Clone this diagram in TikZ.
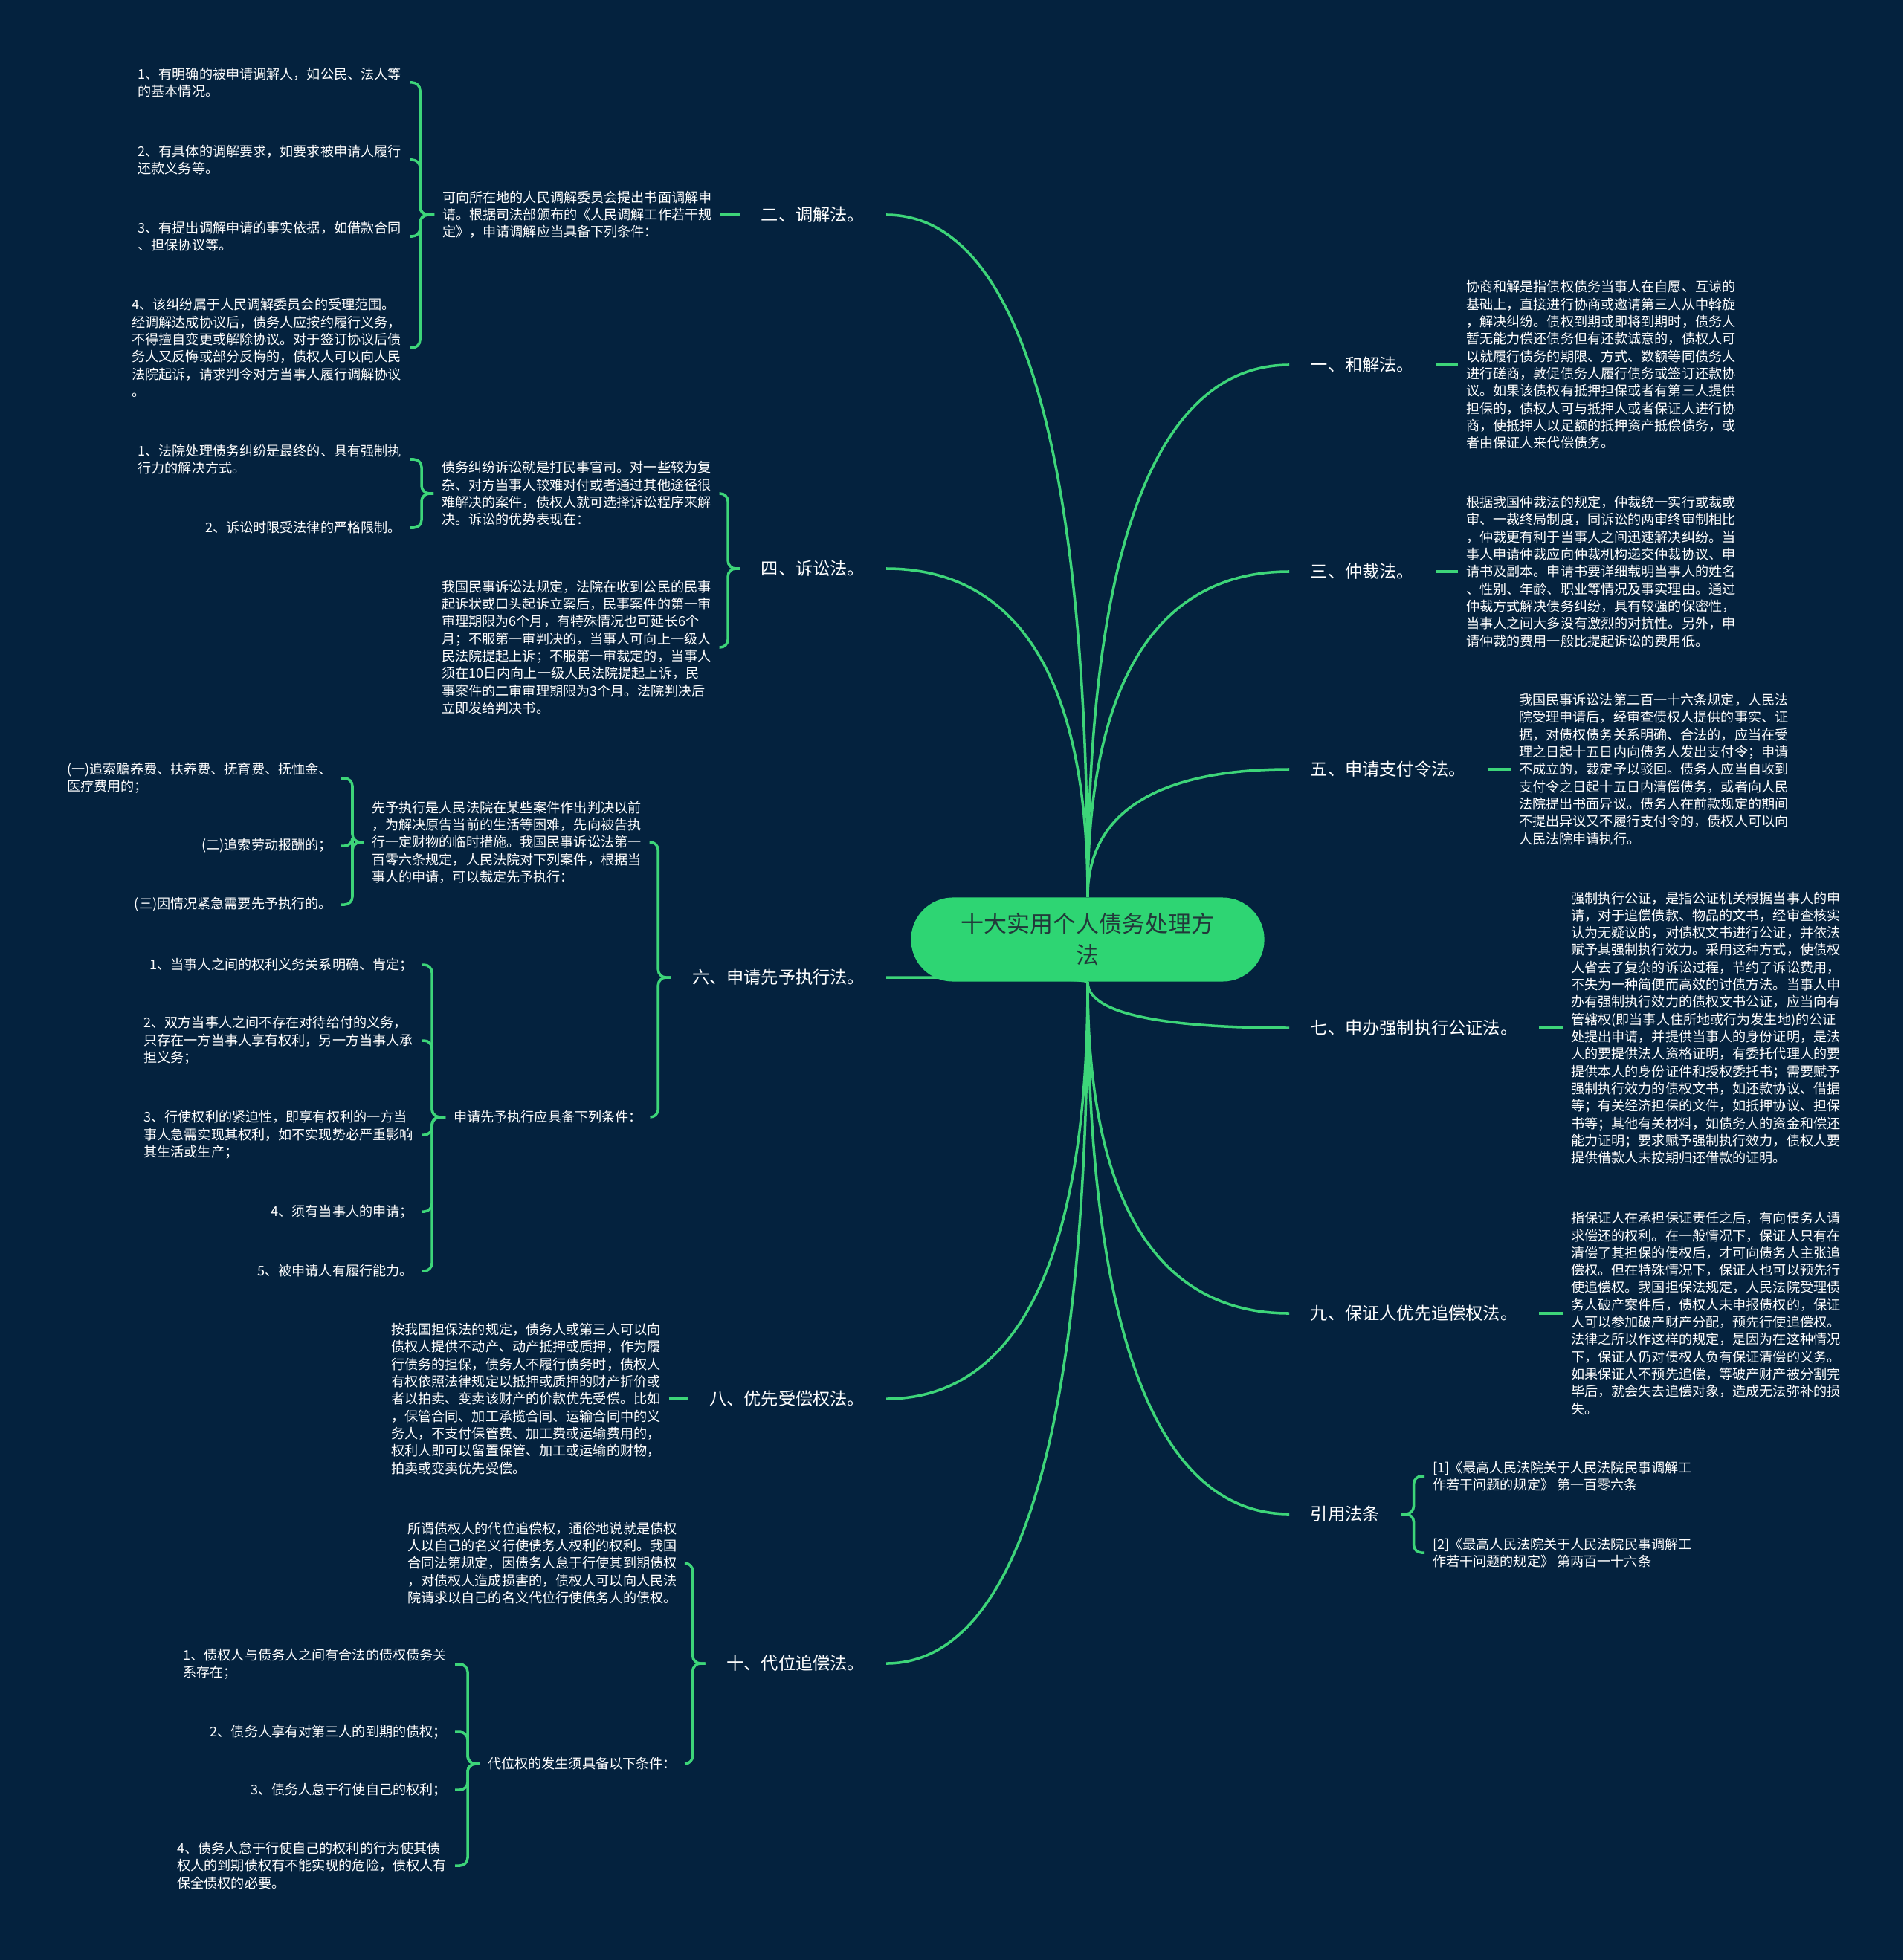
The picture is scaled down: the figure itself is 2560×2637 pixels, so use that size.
\documentclass[tikz,border=0pt]{standalone}
\usepackage{fontspec}
\usetikzlibrary{calc,backgrounds}
\newfontfamily\cjk{Noto Sans CJK SC}

\definecolor{bgcol}{HTML}{04223E}
\definecolor{linecol}{HTML}{3DD579}
\definecolor{rootcol}{HTML}{2ED573}
\definecolor{rootfont}{HTML}{22393A}
\tikzstyle{bline}=[linecol,line width=1pt]
\tikzstyle{root}=[fill=rootcol,rounded corners=16pt,minimum width=4.75cm,minimum height=1.13cm,
  align=center,text=rootfont,font=\cjk\fontsize{8.8}{12}\selectfont]
\tikzstyle{lbl}=[text=white,inner xsep=8pt,inner ysep=2pt,font=\cjk\fontsize{6.6}{8}\selectfont]
\tikzstyle{txt}=[text=white,align=left,inner xsep=3pt,inner ysep=1pt,font=\cjk\fontsize{5.15}{6.63}\selectfont]
\def\branch#1#2{\draw[bline] (#1) .. controls ($(#1)!0.8!(#1|-#2)$) and ($(#2)!0.5!(#1|-#2)$) .. (#2)}
\def\fork#1#2#3{\draw[bline,rounded corners=3pt] (#1) -- ++(#2,0) |- (#3)}

\begin{document}
\begin{tikzpicture}[x=0.01cm,y=-0.01cm]
  \begin{scope}[on background layer]
    \fill[bgcol] (0,0) rectangle (2560,2637);
  \end{scope}
  \useasboundingbox (0,0) rectangle (2560,2637);
  
  % ROOT
  \node[root] (root) at (1463,1264) {十大实用个人债务处理方\\法};
  
  % LEFT: TWO
  \node[lbl,anchor=east] (two) at (1192,289) {二、调解法。};
  \node[txt,anchor=west] (p2) at (584,289) {可向所在地的人民调解委员会提出书面调解申\\请。根据司法部颁布的《人民调解工作若干规\\定》，申请调解应当具备下列条件：};
  \node[txt,anchor=east] (l21) at (551,111) {1、有明确的被申请调解人，如公民、法人等\\的基本情况。};
  \node[txt,anchor=east] (l22) at (551,215) {2、有具体的调解要求，如要求被申请人履行\\还款义务等。};
  \node[txt,anchor=east] (l23) at (551,318) {3、有提出调解申请的事实依据，如借款合同\\、担保协议等。};
  \node[txt,anchor=east] (l24) at (551,468) {4、该纠纷属于人民调解委员会的受理范围。\\经调解达成协议后，债务人应按约履行义务，\\不得擅自变更或解除协议。对于签订协议后债\\务人又反悔或部分反悔的，债权人可以向人民\\法院起诉，请求判令对方当事人履行调解协议\\。};
  \draw[bline] (p2.east) -- (two.west);
  \foreach \k in {l21,l22,l23,l24} \fork{p2.west}{-19}{\k.east};
  
  % LEFT: FOUR
  \node[lbl,anchor=east] (four) at (1192,765) {四、诉讼法。};
  \node[txt,anchor=west] (p4a) at (583,664) {债务纠纷诉讼就是打民事官司。对一些较为复\\杂、对方当事人较难对付或者通过其他途径很\\难解决的案件，债权人就可选择诉讼程序来解\\决。诉讼的优势表现在：};
  \node[txt,anchor=west] (p4b) at (583,871) {我国民事诉讼法规定，法院在收到公民的民事\\起诉状或口头起诉立案后，民事案件的第一审\\审理期限为6个月，有特殊情况也可延长6个\\月；不服第一审判决的，当事人可向上一级人\\民法院提起上诉；不服第一审裁定的，当事人\\须在10日内向上一级人民法院提起上诉，民\\事案件的二审审理期限为3个月。法院判决后\\立即发给判决书。};
  \node[txt,anchor=east] (l41) at (551,618) {1、法院处理债务纠纷是最终的、具有强制执\\行力的解决方式。};
  \node[txt,anchor=east] (l42) at (551,710) {2、诉讼时限受法律的严格限制。};
  \foreach \k in {p4a,p4b} \fork{four.west}{-16}{\k.east};
  \foreach \k in {l41,l42} \fork{p4a.west}{-16}{\k.east};
  
  % LEFT: SIX
  \node[lbl,anchor=east] (six) at (1192,1315) {六、申请先予执行法。};
  \node[txt,anchor=west] (p6a) at (489,1133) {先予执行是人民法院在某些案件作出判决以前\\，为解决原告当前的生活等困难，先向被告执\\行一定财物的临时措施。我国民事诉讼法第一\\百零六条规定，人民法院对下列案件，根据当\\事人的申请，可以裁定先予执行：};
  \node[txt,anchor=west] (p6b) at (599,1503) {申请先予执行应具备下列条件：};
  \node[txt,anchor=east] (l61) at (458,1047) {(一)追索赡养费、扶养费、抚育费、抚恤金、\\医疗费用的；};
  \node[txt,anchor=east] (l62) at (458,1138) {(二)追索劳动报酬的；};
  \node[txt,anchor=east] (l63) at (458,1217) {(三)因情况紧急需要先予执行的。};
  \node[txt,anchor=east] (l64) at (567,1298) {1、当事人之间的权利义务关系明确、肯定；};
  \node[txt,anchor=east] (l65) at (567,1400) {2、双方当事人之间不存在对待给付的义务，\\只存在一方当事人享有权利，另一方当事人承\\担义务；};
  \node[txt,anchor=east] (l66) at (567,1527) {3、行使权利的紧迫性，即享有权利的一方当\\事人急需实现其权利，如不实现势必严重影响\\其生活或生产；};
  \node[txt,anchor=east] (l67) at (567,1630) {4、须有当事人的申请；};
  \node[txt,anchor=east] (l68) at (567,1710) {5、被申请人有履行能力。};
  \foreach \k in {p6a,p6b} \fork{six.west}{-17}{\k.east};
  \foreach \k in {l61,l62,l63} \fork{p6a.west}{-15}{\k.east};
  \foreach \k in {l64,l65,l66,l67,l68} \fork{p6b.west}{-18}{\k.east};
  
  % LEFT: EIGHT
  \node[lbl,anchor=east] (eight) at (1192,1882) {八、优先受偿权法。};
  \node[txt,anchor=west] (p8) at (515,1882) {按我国担保法的规定，债务人或第三人可以向\\债权人提供不动产、动产抵押或质押，作为履\\行债务的担保，债务人不履行债务时，债权人\\有权依照法律规定以抵押或质押的财产折价或\\者以拍卖、变卖该财产的价款优先受偿。比如\\，保管合同、加工承揽合同、运输合同中的义\\务人，不支付保管费、加工费或运输费用的，\\权利人即可以留置保管、加工或运输的财物，\\拍卖或变卖优先受偿。};
  \draw[bline] (p8.east) -- (eight.west);
  
  % LEFT: TEN
  \node[lbl,anchor=east] (ten) at (1192,2238) {十、代位追偿法。};
  \node[txt,anchor=west] (p10a) at (537,2103) {所谓债权人的代位追偿权，通俗地说就是债权\\人以自己的名义行使债务人权利的权利。我国\\合同法第规定，因债务人怠于行使其到期债权\\，对债权人造成损害的，债权人可以向人民法\\院请求以自己的名义代位行使债务人的债权。};
  \node[txt,anchor=west] (p10b) at (645,2373) {代位权的发生须具备以下条件：};
  \node[txt,anchor=east] (l101) at (612,2239) {1、债权人与债务人之间有合法的债权债务关\\系存在；};
  \node[txt,anchor=east] (l102) at (612,2330) {2、债务人享有对第三人的到期的债权；};
  \node[txt,anchor=east] (l103) at (612,2408) {3、债务人怠于行使自己的权利；};
  \node[txt,anchor=east] (l104) at (612,2510) {4、债务人怠于行使自己的权利的行为使其债\\权人的到期债权有不能实现的危险，债权人有\\保全债权的必要。};
  \foreach \k in {p10a,p10b} \fork{ten.west}{-17}{\k.east};
  \foreach \k in {l101,l102,l103,l104} \fork{p10b.west}{-16}{\k.east};
  
  % RIGHT
  \node[lbl,anchor=west] (one) at (1734,491) {一、和解法。};
  \node[txt,anchor=west] (t1) at (1961,491) {协商和解是指债权债务当事人在自愿、互谅的\\基础上，直接进行协商或邀请第三人从中斡旋\\，解决纠纷。债权到期或即将到期时，债务人\\暂无能力偿还债务但有还款诚意的，债权人可\\以就履行债务的期限、方式、数额等同债务人\\进行磋商，敦促债务人履行债务或签订还款协\\议。如果该债权有抵押担保或者有第三人提供\\担保的，债权人可与抵押人或者保证人进行协\\商，使抵押人以足额的抵押资产抵偿债务，或\\者由保证人来代偿债务。};
  \node[lbl,anchor=west] (three) at (1734,769) {三、仲裁法。};
  \node[txt,anchor=west] (t3) at (1961,769) {根据我国仲裁法的规定，仲裁统一实行或裁或\\审、一裁终局制度，同诉讼的两审终审制相比\\，仲裁更有利于当事人之间迅速解决纠纷。当\\事人申请仲裁应向仲裁机构递交仲裁协议、申\\请书及副本。申请书要详细载明当事人的姓名\\、性别、年龄、职业等情况及事实理由。通过\\仲裁方式解决债务纠纷，具有较强的保密性，\\当事人之间大多没有激烈的对抗性。另外，申\\请仲裁的费用一般比提起诉讼的费用低。};
  \node[lbl,anchor=west] (five) at (1734,1035) {五、申请支付令法。};
  \node[txt,anchor=west] (t5) at (2032,1035) {我国民事诉讼法第二百一十六条规定，人民法\\院受理申请后，经审查债权人提供的事实、证\\据，对债权债务关系明确、合法的，应当在受\\理之日起十五日内向债务人发出支付令；申请\\不成立的，裁定予以驳回。债务人应当自收到\\支付令之日起十五日内清偿债务，或者向人民\\法院提出书面异议。债务人在前款规定的期间\\不提出异议又不履行支付令的，债权人可以向\\人民法院申请执行。};
  \node[lbl,anchor=west] (seven) at (1734,1383) {七、申办强制执行公证法。};
  \node[txt,anchor=west] (t7) at (2102,1383) {强制执行公证，是指公证机关根据当事人的申\\请，对于追偿债款、物品的文书，经审查核实\\认为无疑议的，对债权文书进行公证，并依法\\赋予其强制执行效力。采用这种方式，使债权\\人省去了复杂的诉讼过程，节约了诉讼费用，\\不失为一种简便而高效的讨债方法。当事人申\\办有强制执行效力的债权文书公证，应当向有\\管辖权(即当事人住所地或行为发生地)的公证\\处提出申请，并提供当事人的身份证明，是法\\人的要提供法人资格证明，有委托代理人的要\\提供本人的身份证件和授权委托书；需要赋予\\强制执行效力的债权文书，如还款协议、借据\\等；有关经济担保的文件，如抵押协议、担保\\书等；其他有关材料，如债务人的资金和偿还\\能力证明；要求赋予强制执行效力，债权人要\\提供借款人未按期归还借款的证明。};
  \node[lbl,anchor=west] (nine) at (1734,1767) {九、保证人优先追偿权法。};
  \node[txt,anchor=west] (t9) at (2102,1767) {指保证人在承担保证责任之后，有向债务人请\\求偿还的权利。在一般情况下，保证人只有在\\清偿了其担保的债权后，才可向债务人主张追\\偿权。但在特殊情况下，保证人也可以预先行\\使追偿权。我国担保法规定，人民法院受理债\\务人破产案件后，债权人未申报债权的，保证\\人可以参加破产财产分配，预先行使追偿权。\\法律之所以作这样的规定，是因为在这种情况\\下，保证人仍对债权人负有保证清偿的义务。\\如果保证人不预先追偿，等破产财产被分割完\\毕后，就会失去追偿对象，造成无法弥补的损\\失。};
  \node[lbl,anchor=west] (cite) at (1734,2037) {引用法条};
  \node[txt,anchor=west] (r1) at (1916,1986) {[1]《最高人民法院关于人民法院民事调解工\\作若干问题的规定》 第一百零六条};
  \node[txt,anchor=west] (r2) at (1916,2089) {[2]《最高人民法院关于人民法院民事调解工\\作若干问题的规定》 第两百一十六条};
  \foreach \a/\b in {one/t1,three/t3,five/t5,seven/t7,nine/t9} \draw[bline] (\a.east) -- (\b.west);
  \foreach \k in {r1,r2} \fork{cite.east}{17}{\k.west};
  
  % CONNECTORS
  \begin{scope}[on background layer]
    \foreach \k in {two,four} \branch{root.north}{\k.east};
    \foreach \k in {one,three,five} \branch{root.north}{\k.west};
    \foreach \k in {six,eight,ten} \branch{root.south}{\k.east};
    \foreach \k in {seven,nine,cite} \branch{root.south}{\k.west};
  \end{scope}
  
\end{tikzpicture}
\end{document}
